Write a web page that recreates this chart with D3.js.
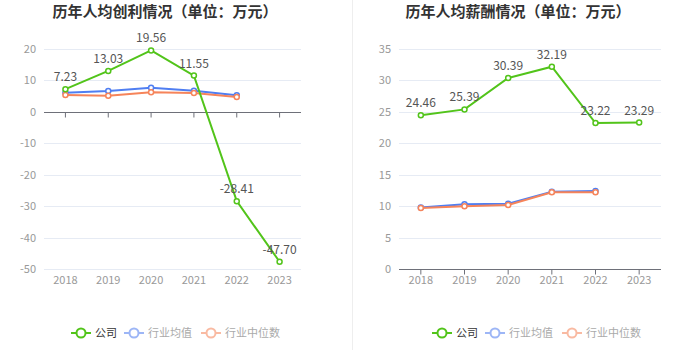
<!DOCTYPE html>
<html>
<head>
<meta charset="utf-8">
<script src="https://d3js.org/d3.v7.min.js"></script>
<style>
  body { margin: 0; background: #fff; }
  text { font-family: "Noto Sans CJK SC", "Noto Sans", sans-serif; }
</style>
</head>
<body>
<script>
var years = ["2018", "2019", "2020", "2021", "2022", "2023"];

// 人均创利
var profitCompany = [7.23, 13.03, 19.56, 11.55, -28.41, -47.70];
var profitAvg = [6.1, 6.6, 7.7, 6.7, 5.3];
var profitMedian = [5.4, 5.1, 6.2, 6.0, 4.7];
var profitTicks = [20, 10, 0, -10, -20, -30, -40, -50];

// 人均薪酬
var salaryCompany = [24.46, 25.39, 30.39, 32.19, 23.22, 23.29];
var salaryAvg = [9.8, 10.3, 10.4, 12.3, 12.4];
var salaryMedian = [9.7, 10.0, 10.2, 12.2, 12.2];
var salaryTicks = [35, 30, 25, 20, 15, 10, 5, 0];

var legendNames = ["公司", "行业均值", "行业中位数"];
var colors = ["#52c41a", "#4f7ef2", "#f6845a"];
var legendColors = ["#52c41a", "#9db6f6", "#f9baa2"];

var W = 700, H = 361;
var svg = d3.select("body").append("svg").attr("width", W).attr("height", H);

// separator
svg.append("line").attr("x1", 352.5).attr("x2", 352.5).attr("y1", 0).attr("y2", 350)
  .attr("stroke", "#eee").attr("stroke-width", 1);

function drawChart(opt) {
  var g = svg.append("g");
  var x = d3.scaleBand().domain(years).range([opt.x0, opt.x1]);
  var y = d3.scaleLinear().domain(opt.domain).range([opt.y1, opt.y0]);

  g.append("text").attr("x", opt.tx).attr("y", 17).attr("text-anchor", "middle")
    .attr("font-size", 15).attr("font-weight", "bold").attr("fill", "#333").text(opt.title);

  // grid
  g.selectAll(".grid").data(opt.ticks).enter().append("line")
    .attr("x1", opt.x0).attr("x2", opt.x1)
    .attr("y1", function (d) { return Math.round(y(d)) + 0.5; })
    .attr("y2", function (d) { return Math.round(y(d)) + 0.5; })
    .attr("stroke", "#e6ebf4");

  g.selectAll(".yl").data(opt.ticks).enter().append("text")
    .attr("x", opt.x0 - 8).attr("y", function (d) { return y(d) + 4; })
    .attr("text-anchor", "end").attr("font-size", 11).attr("fill", "#999")
    .text(function (d) { return d; });

  // x axis at zero
  var ay = Math.round(y(0)) + 0.5;
  g.append("line").attr("x1", opt.x0).attr("x2", opt.x1).attr("y1", ay).attr("y2", ay)
    .attr("stroke", "#6e7079");
  g.selectAll(".tk").data(years).enter().append("line")
    .attr("x1", function (d) { return x(d) + x.bandwidth() / 2; })
    .attr("x2", function (d) { return x(d) + x.bandwidth() / 2; })
    .attr("y1", ay).attr("y2", ay + 5).attr("stroke", "#6e7079");
  g.selectAll(".xl").data(years).enter().append("text")
    .attr("x", function (d) { return x(d) + x.bandwidth() / 2; })
    .attr("y", opt.y1 + 15).attr("text-anchor", "middle")
    .attr("font-size", 11).attr("fill", "#999").text(function (d) { return d; });

  var line = d3.line()
    .x(function (d, i) { return x(years[i]) + x.bandwidth() / 2; })
    .y(function (d) { return y(d); });

  var series = [opt.avg, opt.median, opt.company];
  var scol = [colors[1], colors[2], colors[0]];
  series.forEach(function (s, k) {
    g.append("path").attr("d", line(s)).attr("fill", "none")
      .attr("stroke", scol[k]).attr("stroke-width", 2);
    g.selectAll(".pt" + k).data(s).enter().append("circle")
      .attr("cx", function (d, i) { return x(years[i]) + x.bandwidth() / 2; })
      .attr("cy", function (d) { return y(d); })
      .attr("r", 2.5).attr("fill", "#fff").attr("stroke", scol[k]).attr("stroke-width", 1.5);
  });

  g.selectAll(".lbl").data(opt.company).enter().append("text")
    .attr("x", function (d, i) { return x(years[i]) + x.bandwidth() / 2; })
    .attr("y", function (d) { return y(d) - 8; })
    .attr("text-anchor", "middle").attr("font-size", 12).attr("fill", "#555")
    .text(function (d) { return d.toFixed(2); });

  // legend
  var lx = opt.lx;
  var widths = [24, 48, 60];
  legendNames.forEach(function (n, i) {
    var lg = g.append("g").attr("transform", "translate(" + lx + ",333)");
    lg.append("line").attr("x1", 0).attr("x2", 20).attr("y1", 0).attr("y2", 0)
      .attr("stroke", legendColors[i]).attr("stroke-width", 2);
    lg.append("circle").attr("cx", 10).attr("cy", 0).attr("r", 4.5)
      .attr("fill", "#fff").attr("stroke", legendColors[i]).attr("stroke-width", 2);
    lg.append("text").attr("x", 24).attr("y", 4).attr("font-size", 11)
      .attr("fill", i === 0 ? "#333" : "#aaa").text(n);
    lx += 24 + widths[i] + 5;
  });
}

drawChart({
  title: "历年人均创利情况（单位：万元）", tx: 165,
  x0: 44, x1: 301, y0: 49, y1: 269, domain: [-50, 20], ticks: profitTicks,
  company: profitCompany, avg: profitAvg, median: profitMedian, lx: 71
});

drawChart({
  title: "历年人均薪酬情况（单位：万元）", tx: 518,
  x0: 399, x1: 661, y0: 49, y1: 269, domain: [0, 35], ticks: salaryTicks,
  company: salaryCompany, avg: salaryAvg, median: salaryMedian, lx: 432
});
</script>
</body>
</html>
